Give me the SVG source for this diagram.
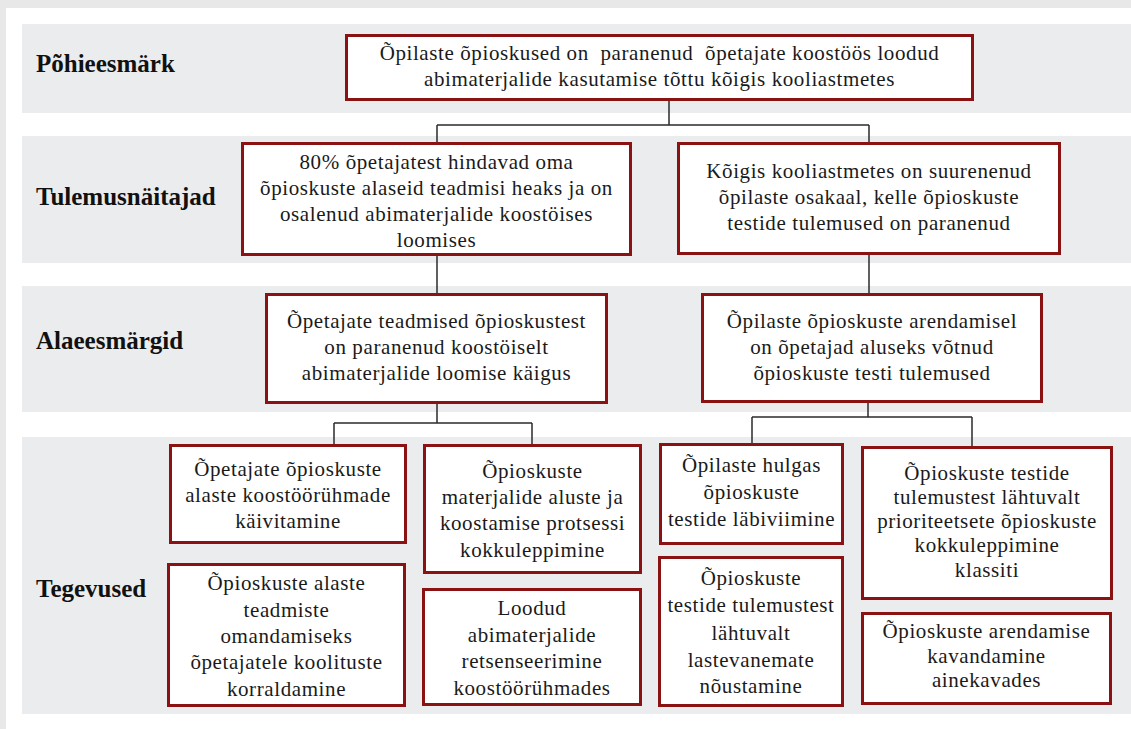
<svg xmlns="http://www.w3.org/2000/svg" width="1131" height="729" viewBox="0 0 1131 729">
  <style>
    .band { fill: #ebeced; }
    .box rect { fill: #ffffff; stroke: #8b1212; stroke-width: 3; }
    .box text { font-family: "Liberation Serif", "Times New Roman", serif; font-size: 21px; letter-spacing: 0.6px; fill: #1a1a1a; text-anchor: middle; white-space: pre; }
    .label { font-family: "Liberation Serif", "Times New Roman", serif; font-size: 25px; font-weight: bold; fill: #111111; }
    .conn { fill: none; stroke: #2b2b2b; stroke-width: 1.5; }
  </style>

  <!-- page frame -->
  <rect x="0" y="0" width="1131" height="729" fill="#e8e8e8"/>
  <rect x="6" y="8" width="1125" height="721" fill="#ffffff"/>

  <!-- horizontal level bands -->
  <g id="bands">
    <rect class="band" x="22" y="24" width="1109" height="89"/>
    <rect class="band" x="22" y="136" width="1109" height="127"/>
    <rect class="band" x="22" y="286" width="1109" height="126"/>
    <rect class="band" x="22" y="437" width="1109" height="277"/>
  </g>

  <!-- level labels -->
  <g id="labels">
    <text class="label" x="36" y="72">Põhieesmärk</text>
    <text class="label" x="36" y="205">Tulemusnäitajad</text>
    <text class="label" x="36" y="349">Alaeesmärgid</text>
    <text class="label" x="36" y="597">Tegevused</text>
  </g>

  <!-- tree connectors -->
  <g id="connectors">
    <path class="conn" d="M669 101 V125 M437 125 H869 M437 125 V142 M869 125 V142"/>
    <path class="conn" d="M437 256 V293"/>
    <path class="conn" d="M869 255 V293"/>
    <path class="conn" d="M437 404 V423 M334 423 H532 M334 423 V444 M532 423 V444"/>
    <path class="conn" d="M868 403 V417 M752 417 H972 M752 417 V443 M972 417 V446"/>
  </g>

  <g id="goal" class="box">
    <rect x="346.5" y="35.5" width="626" height="64"/>
    <text x="659.5" y="60">Õpilaste õpioskused on  paranenud  õpetajate koostöös loodud</text>
    <text x="659.5" y="86">abimaterjalide kasutamise tõttu kõigis kooliastmetes</text>
  </g>

  <g id="indicator-teachers" class="box">
    <rect x="242.5" y="143.5" width="388" height="111"/>
    <text x="436.5" y="169">80% õpetajatest hindavad oma</text>
    <text x="436.5" y="195">õpioskuste alaseid teadmisi heaks ja on</text>
    <text x="436.5" y="221">osalenud abimaterjalide koostöises</text>
    <text x="436.5" y="247">loomises</text>
  </g>

  <g id="indicator-students" class="box">
    <rect x="678.5" y="143.5" width="381" height="110"/>
    <text x="869" y="178">Kõigis kooliastmetes on suurenenud</text>
    <text x="869" y="204">õpilaste osakaal, kelle õpioskuste</text>
    <text x="869" y="230">testide tulemused on paranenud</text>
  </g>

  <g id="subgoal-teachers" class="box">
    <rect x="266.5" y="294.5" width="340" height="108"/>
    <text x="436.5" y="328">Õpetajate teadmised õpioskustest</text>
    <text x="436.5" y="354">on paranenud koostöiselt</text>
    <text x="436.5" y="380">abimaterjalide loomise käigus</text>
  </g>

  <g id="subgoal-students" class="box">
    <rect x="702.5" y="294.5" width="339" height="107"/>
    <text x="872" y="328">Õpilaste õpioskuste arendamisel</text>
    <text x="872" y="354">on õpetajad aluseks võtnud</text>
    <text x="872" y="380">õpioskuste testi tulemused</text>
  </g>

  <g id="activity-groups" class="box">
    <rect x="170.5" y="445.5" width="235" height="97"/>
    <text x="288" y="476">Õpetajate õpioskuste</text>
    <text x="288" y="502">alaste koostöörühmade</text>
    <text x="288" y="528">käivitamine</text>
  </g>

  <g id="activity-materials" class="box">
    <rect x="424.5" y="445.5" width="216" height="127"/>
    <text x="532.5" y="478">Õpioskuste</text>
    <text x="532.5" y="504">materjalide aluste ja</text>
    <text x="532.5" y="530">koostamise protsessi</text>
    <text x="532.5" y="557">kokkuleppimine</text>
  </g>

  <g id="activity-training" class="box">
    <rect x="168.5" y="564.5" width="236" height="141"/>
    <text x="286.5" y="590">Õpioskuste alaste</text>
    <text x="286.5" y="617">teadmiste</text>
    <text x="286.5" y="643">omandamiseks</text>
    <text x="286.5" y="669">õpetajatele koolituste</text>
    <text x="286.5" y="696">korraldamine</text>
  </g>

  <g id="activity-review" class="box">
    <rect x="423.5" y="589.5" width="217" height="115"/>
    <text x="532" y="615">Loodud</text>
    <text x="532" y="642">abimaterjalide</text>
    <text x="532" y="668">retsenseerimine</text>
    <text x="532" y="695">koostöörühmades</text>
  </g>

  <g id="activity-testing" class="box">
    <rect x="660.5" y="444.5" width="182" height="99"/>
    <text x="751.5" y="472">Õpilaste hulgas</text>
    <text x="751.5" y="499">õpioskuste</text>
    <text x="751.5" y="526">testide läbiviimine</text>
  </g>

  <g id="activity-priorities" class="box">
    <rect x="862.5" y="447.5" width="249" height="151"/>
    <text x="987" y="480">Õpioskuste testide</text>
    <text x="987" y="504">tulemustest lähtuvalt</text>
    <text x="987" y="528">prioriteetsete õpioskuste</text>
    <text x="987" y="552">kokkuleppimine</text>
    <text x="987" y="577">klassiti</text>
  </g>

  <g id="activity-parents" class="box">
    <rect x="659.5" y="557.5" width="183" height="148"/>
    <text x="751" y="585">Õpioskuste</text>
    <text x="751" y="612">testide tulemustest</text>
    <text x="751" y="640">lähtuvalt</text>
    <text x="751" y="667">lastevanemate</text>
    <text x="751" y="693">nõustamine</text>
  </g>

  <g id="activity-curricula" class="box">
    <rect x="862.5" y="613.5" width="248" height="90"/>
    <text x="986.5" y="638">Õpioskuste arendamise</text>
    <text x="986.5" y="663">kavandamine</text>
    <text x="986.5" y="687">ainekavades</text>
  </g>
</svg>
